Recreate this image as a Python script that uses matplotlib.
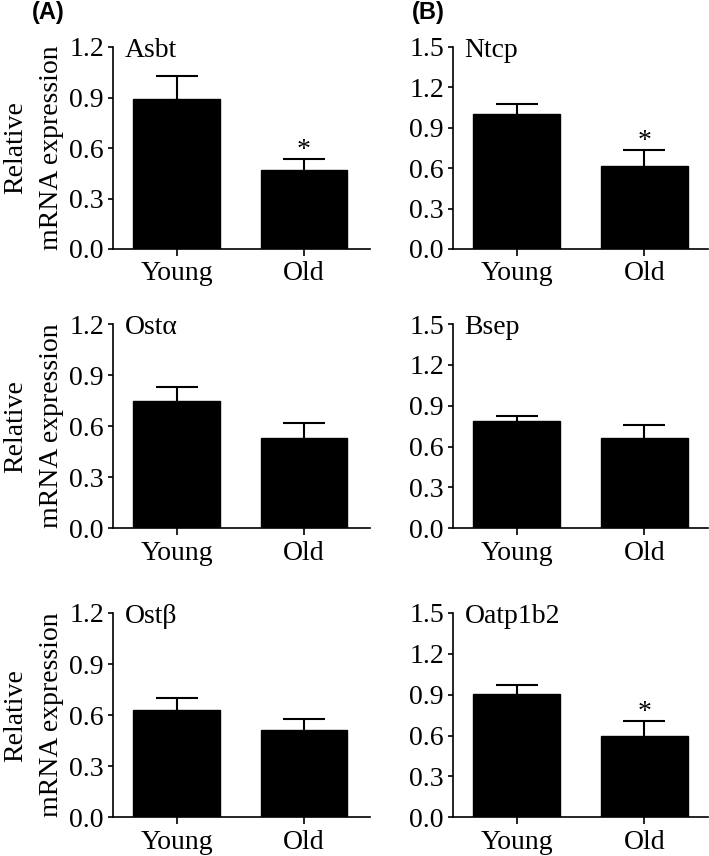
import matplotlib
matplotlib.use("Agg")
import matplotlib.pyplot as plt
import numpy as np

plt.rcParams['font.family'] = ['Liberation Serif', 'DejaVu Serif']

groups = ["Young", "Old"]
genes_A = ["Asbt", "Ostα", "Ostβ"]
genes_B = ["Ntcp", "Bsep", "Oatp1b2"]
means_A = [[0.89, 0.47], [0.75, 0.53], [0.63, 0.51]]
errs_A = [[0.135, 0.065], [0.08, 0.09], [0.07, 0.07]]
means_B = [[1.00, 0.615], [0.79, 0.66], [0.905, 0.60]]
errs_B = [[0.08, 0.12], [0.035, 0.095], [0.065, 0.105]]
sig_A = [[False, True], [False, False], [False, False]]
sig_B = [[False, True], [False, False], [False, True]]
ymax_A = 1.2
ymax_B = 1.5
yticks_A = [0.0, 0.3, 0.6, 0.9, 1.2]
yticks_B = [0.0, 0.3, 0.6, 0.9, 1.2, 1.5]
ylabel = "Relative\nmRNA expression"

W, H = 709, 856
fig = plt.figure(figsize=(W / 100, H / 100), dpi=100)

rows = [(47, 249), (324, 528.3), (613, 817.3)]
cols = [(113, 370), (453, 708)]
FS = 20

def draw(ax, name, means, errs, sig, ymax, yticks, xr, with_ylabel):
    x = np.arange(len(groups))
    _, caps, _ = ax.errorbar(x, means, yerr=[np.zeros(len(errs)), errs], fmt='none',
                             ecolor='black', elinewidth=1.5, capsize=15, capthick=1.5,
                             zorder=2)
    if len(caps) == 2:
        caps[0].set_visible(False)
    ax.bar(x, means, width=0.68, color='black', edgecolor='black', zorder=3)
    for i in range(len(groups)):
        if sig[i]:
            ax.annotate('*', xy=(x[i], means[i] + errs[i]), xytext=(0, 1.5),
                        textcoords='offset points', ha='center', va='baseline',
                        fontsize=FS)
    ax.set_ylim(0, ymax)
    ax.set_xlim(-0.5, xr)
    ax.set_yticks(yticks)
    ax.set_yticklabels([f"{v:.1f}" for v in yticks])
    ax.set_xticks(x)
    ax.set_xticklabels(groups)
    for s in ['top', 'right']:
        ax.spines[s].set_visible(False)
    for s in ['left', 'bottom']:
        ax.spines[s].set_linewidth(1.2)
    ax.tick_params(axis='y', direction='out', length=3.5, width=1.2, labelsize=FS, pad=3)
    ax.tick_params(axis='x', direction='out', length=5, width=1.2, labelsize=FS, pad=4)
    ax.text(0.045, 0.95, name, transform=ax.transAxes, ha='left', va='baseline',
            fontsize=FS)
    if with_ylabel:
        ax.set_ylabel(ylabel, fontsize=FS, linespacing=1.6)
        ax.yaxis.set_label_coords(-0.19, 0.5)

for r, (top, bot) in enumerate(rows):
    for c, (left, right) in enumerate(cols):
        ax = fig.add_axes([left / W, 1 - bot / H, (right - left) / W, (bot - top) / H])
        if c == 0:
            draw(ax, genes_A[r], means_A[r], errs_A[r], sig_A[r], ymax_A, yticks_A, 1.52, True)
        else:
            draw(ax, genes_B[r], means_B[r], errs_B[r], sig_B[r], ymax_B, yticks_B, 1.5, False)

fig.text(32 / W, 1 - 1 / H, "(A)", ha='left', va='top', fontsize=17,
         fontweight='bold', family=['Liberation Sans', 'DejaVu Sans'])
fig.text(412 / W, 1 - 1 / H, "(B)", ha='left', va='top', fontsize=17,
         fontweight='bold', family=['Liberation Sans', 'DejaVu Sans'])

fig.savefig("out.png", dpi=100)
